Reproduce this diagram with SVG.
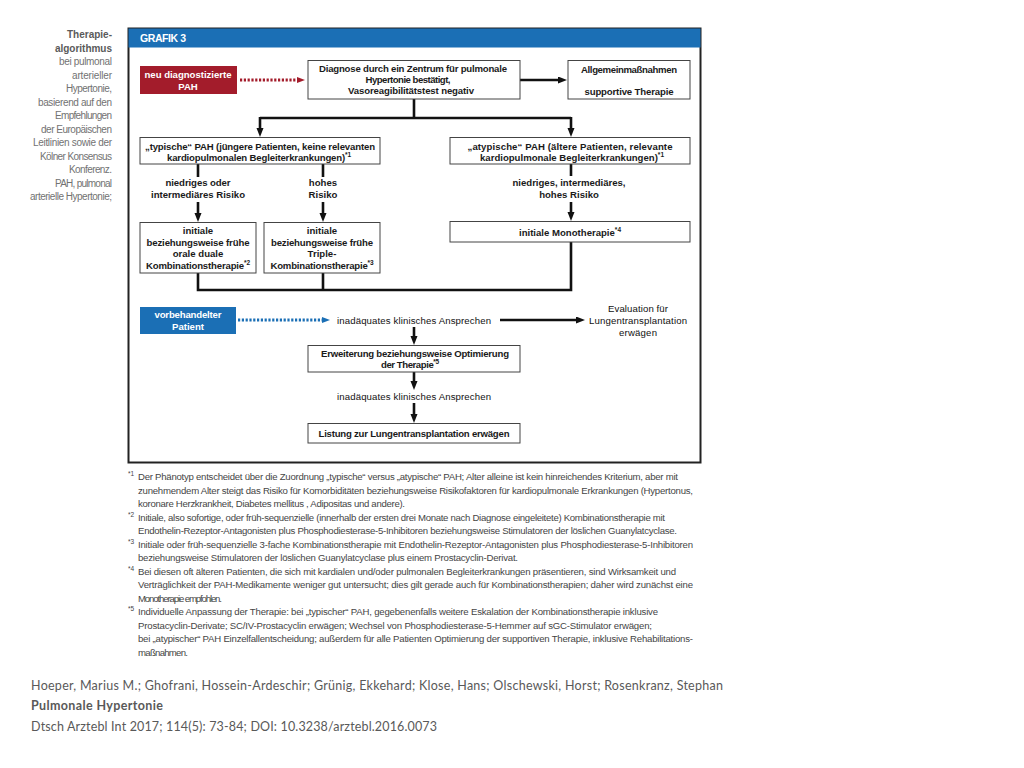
<svg xmlns="http://www.w3.org/2000/svg" width="1024" height="768" viewBox="0 0 1024 768">
<defs>
<style>
.bx{fill:#fff;stroke:#444;stroke-width:1}
.t{font-family:"Liberation Sans",Arial,sans-serif;font-weight:bold;font-size:9.6px;fill:#1a1a1a;text-anchor:middle}
.wt{fill:#fff}
.nw{font-weight:normal;fill:#111}
.ln{fill:none;stroke:#111;stroke-width:2.6}
.fn{font-family:"Liberation Sans",Arial,sans-serif;font-size:9.6px;fill:#454545}
.fs{font-family:"Liberation Sans",Arial,sans-serif;font-size:6.5px;fill:#454545}
.sup{font-size:6.5px}
.sd{font-family:"Liberation Sans",Arial,sans-serif;font-size:10px;fill:#727272;text-anchor:end}
.sdb{font-weight:bold;fill:#5a5a5a}
.ct{font-family:Lato,"Liberation Sans",sans-serif;font-size:12.5px;fill:#595959}
</style>
<marker id="ah" markerUnits="userSpaceOnUse" markerWidth="10" markerHeight="8" refX="2" refY="3.5" orient="auto"><path d="M0,0 L9,3.5 L0,7 z" fill="#111"/></marker>
<marker id="ahr" markerUnits="userSpaceOnUse" markerWidth="9" markerHeight="7" refX="0" refY="3" orient="auto"><path d="M0,0 L8,3 L0,6 z" fill="#a31c2b"/></marker>
<marker id="ahb" markerUnits="userSpaceOnUse" markerWidth="9" markerHeight="7" refX="0" refY="3" orient="auto"><path d="M0,0 L8,3 L0,6 z" fill="#1b6fb5"/></marker>
</defs>
<rect width="1024" height="768" fill="#fff"/>

<g id="sidebar">
<text class="sd sdb" x="112" y="38" textLength="45">Therapie-</text>
<text class="sd sdb" x="112" y="51.5" textLength="57">algorithmus</text>
<text class="sd" x="112" y="65" textLength="53">bei pulmonal</text>
<text class="sd" x="112" y="78.5" textLength="40">arterieller</text>
<text class="sd" x="112" y="92" textLength="46">Hypertonie,</text>
<text class="sd" x="112" y="105.5" textLength="74">basierend auf den</text>
<text class="sd" x="112" y="119" textLength="57">Empfehlungen</text>
<text class="sd" x="112" y="132.5" textLength="71">der Europäischen</text>
<text class="sd" x="112" y="146" textLength="79">Leitlinien sowie der</text>
<text class="sd" x="112" y="159.5" textLength="72">Kölner Konsensus</text>
<text class="sd" x="112" y="173" textLength="43">Konferenz.</text>
<text class="sd" x="112" y="186.5" textLength="57">PAH, pulmonal</text>
<text class="sd" x="112" y="200" textLength="82">arterielle Hypertonie;</text>
</g>

<g id="frame">
<rect x="128.5" y="28.5" width="572" height="434" fill="#fff" stroke="#222" stroke-width="2"/>
<rect x="128.5" y="28.5" width="572" height="19" fill="#1b6fb5"/>
<text x="140" y="42" font-family="Liberation Sans,Arial,sans-serif" font-weight="bold" font-size="10.5" fill="#fff" textLength="46">GRAFIK 3</text>
</g>

<g id="connectors">
<line x1="240" y1="80" x2="297" y2="80" stroke="#a31c2b" stroke-width="3" stroke-dasharray="2.2 1.6" marker-end="url(#ahr)"/>
<line class="ln" x1="520" y1="80" x2="560" y2="80" marker-end="url(#ah)"/>
<path class="ln" d="M414,99 V118 M260,118 H571"/>
<line class="ln" x1="260" y1="117" x2="260" y2="130" marker-end="url(#ah)"/>
<line class="ln" x1="571" y1="117" x2="571" y2="130" marker-end="url(#ah)"/>
<path class="ln" d="M198,164 V177 M323,164 V177 M571,164 V176"/>
<line class="ln" x1="198" y1="202" x2="198" y2="215" marker-end="url(#ah)"/>
<line class="ln" x1="323" y1="202" x2="323" y2="215" marker-end="url(#ah)"/>
<line class="ln" x1="571" y1="202" x2="571" y2="214" marker-end="url(#ah)"/>
<path class="ln" d="M198,273 V290 H571 V242 M323,273 V290"/>
<line x1="238" y1="320" x2="322" y2="320" stroke="#1b6fb5" stroke-width="3" stroke-dasharray="2.2 1.6" marker-end="url(#ahb)"/>
<line class="ln" x1="500" y1="320" x2="578" y2="320" marker-end="url(#ah)"/>
<line class="ln" x1="414" y1="327" x2="414" y2="338" marker-end="url(#ah)"/>
<line class="ln" x1="414" y1="372" x2="414" y2="383" marker-end="url(#ah)"/>
<line class="ln" x1="414" y1="403" x2="414" y2="416" marker-end="url(#ah)"/>
</g>

<g id="n-neu">
<rect x="140" y="66" width="97" height="28" fill="#a31c2b"/>
<text class="t wt" x="188" y="78" textLength="87">neu diagnostizierte</text>
<text class="t wt" x="188" y="89.5">PAH</text>
</g>

<g id="n-diagnose">
<rect class="bx" x="308" y="60.5" width="212" height="38.5"/>
<text class="t" x="413" y="72" textLength="188">Diagnose durch ein Zentrum für pulmonale</text>
<text class="t" x="408" y="83" textLength="85">Hypertonie bestätigt,</text>
<text class="t" x="411" y="94" textLength="126">Vasoreagibilitätstest negativ</text>
</g>

<g id="n-allgemein">
<rect class="bx" x="568" y="60.5" width="122" height="38.5"/>
<text class="t" x="629" y="73" textLength="96">Allgemeinmaßnahmen</text>
<text class="t" x="629" y="95" textLength="89">supportive Therapie</text>
</g>

<g id="n-typisch">
<rect class="bx" x="140" y="137.5" width="240" height="26.5"/>
<text class="t" x="260" y="150" textLength="230">„typische“ PAH (jüngere Patienten, keine relevanten</text>
<text class="t" x="259" y="161" textLength="184">kardiopulmonalen Begleiterkrankungen)<tspan class="sup" dy="-4">*1</tspan></text>
</g>

<g id="l-niedrig">
<text class="t" x="198" y="186" textLength="65">niedriges oder</text>
<text class="t" x="198" y="198" textLength="94">intermediäres Risiko</text>
</g>

<g id="l-hoch">
<text class="t" x="323" y="186">hohes</text>
<text class="t" x="323" y="198">Risiko</text>
</g>

<g id="n-dual">
<rect class="bx" x="140" y="222.5" width="116" height="50.5"/>
<text class="t" x="198" y="234">initiale</text>
<text class="t" x="198" y="246" textLength="103">beziehungsweise frühe</text>
<text class="t" x="198" y="257">orale duale</text>
<text class="t" x="198" y="269" textLength="104">Kombinationstherapie<tspan class="sup" dy="-4">*2</tspan></text>
</g>

<g id="n-triple">
<rect class="bx" x="264" y="222.5" width="116" height="50.5"/>
<text class="t" x="322" y="234">initiale</text>
<text class="t" x="322" y="246" textLength="102">beziehungsweise frühe</text>
<text class="t" x="322" y="257">Triple-</text>
<text class="t" x="322" y="269" textLength="103">Kombinationstherapie<tspan class="sup" dy="-4">*3</tspan></text>
</g>

<g id="n-atypisch">
<rect class="bx" x="450" y="137.5" width="240" height="26.5"/>
<text class="t" x="570" y="150" textLength="205">„atypische“ PAH (ältere Patienten, relevante</text>
<text class="t" x="572" y="161" textLength="184">kardiopulmonale Begleiterkrankungen)<tspan class="sup" dy="-4">*1</tspan></text>
</g>

<g id="l-alle">
<text class="t" x="569" y="186" textLength="113">niedriges, intermediäres,</text>
<text class="t" x="569" y="198">hohes Risiko</text>
</g>

<g id="n-mono">
<rect class="bx" x="450" y="221.5" width="240" height="20.5"/>
<text class="t" x="570" y="236" textLength="102">initiale Monotherapie<tspan class="sup" dy="-4">*4</tspan></text>
</g>

<g id="n-vorbehandelt">
<rect x="140" y="307" width="96" height="27" fill="#1b6fb5"/>
<text class="t wt" x="188" y="318" textLength="67">vorbehandelter</text>
<text class="t wt" x="188" y="330">Patient</text>
</g>

<g id="l-inad1">
<text class="t nw" x="414" y="323.5" textLength="154">inadäquates klinisches Ansprechen</text>
</g>

<g id="n-evaluation">
<text class="t nw" x="638" y="312" textLength="60">Evaluation für</text>
<text class="t nw" x="638" y="324" textLength="98">Lungentransplantation</text>
<text class="t nw" x="638" y="336" textLength="38">erwägen</text>
</g>

<g id="n-erweiterung">
<rect class="bx" x="308" y="345.5" width="212" height="26.5"/>
<text class="t" x="415" y="357" textLength="188">Erweiterung beziehungsweise Optimierung</text>
<text class="t" x="410" y="368" textLength="58">der Therapie<tspan class="sup" dy="-4">*5</tspan></text>
</g>

<g id="l-inad2">
<text class="t nw" x="414" y="400" textLength="154">inadäquates klinisches Ansprechen</text>
</g>

<g id="n-listung">
<rect class="bx" x="308" y="423.5" width="212" height="19.5"/>
<text class="t" x="414" y="437" textLength="191">Listung zur Lungentransplantation erwägen</text>
</g>

<g id="footnotes">
<text class="fs" x="128" y="476">*1</text>
<text class="fn" x="138" y="480" textLength="540">Der Phänotyp entscheidet über die Zuordnung „typische“ versus „atypische“ PAH; Alter alleine ist kein hinreichendes Kriterium, aber mit</text>
<text class="fn" x="138" y="493.5" textLength="555">zunehmendem Alter steigt das Risiko für Komorbiditäten beziehungsweise Risikofaktoren für kardiopulmonale Erkrankungen (Hypertonus,</text>
<text class="fn" x="138" y="507" textLength="267">koronare Herzkrankheit, Diabetes mellitus , Adipositas und andere).</text>
<text class="fs" x="128" y="516.5">*2</text>
<text class="fn" x="138" y="520.5" textLength="527">Initiale, also sofortige, oder früh-sequenzielle (innerhalb der ersten drei Monate nach Diagnose eingeleitete) Kombinationstherapie mit</text>
<text class="fn" x="138" y="534" textLength="539">Endothelin-Rezeptor-Antagonisten plus Phosphodiesterase-5-Inhibitoren beziehungsweise Stimulatoren der löslichen Guanylatcyclase.</text>
<text class="fs" x="128" y="543.5">*3</text>
<text class="fn" x="138" y="547.5" textLength="555">Initiale oder früh-sequenzielle 3-fache Kombinationstherapie mit Endothelin-Rezeptor-Antagonisten plus Phosphodiesterase-5-Inhibitoren</text>
<text class="fn" x="138" y="561" textLength="380">beziehungsweise Stimulatoren der löslichen Guanylatcyclase plus einem Prostacyclin-Derivat.</text>
<text class="fs" x="128" y="570.5">*4</text>
<text class="fn" x="138" y="574.5" textLength="538">Bei diesen oft älteren Patienten, die sich mit kardialen und/oder pulmonalen Begleiterkrankungen präsentieren, sind Wirksamkeit und</text>
<text class="fn" x="138" y="588" textLength="555">Verträglichkeit der PAH-Medikamente weniger gut untersucht; dies gilt gerade auch für Kombinationstherapien; daher wird zunächst eine</text>
<text class="fn" x="138" y="601.5" textLength="84">Monotherapie empfohlen.</text>
<text class="fs" x="128" y="611">*5</text>
<text class="fn" x="138" y="615" textLength="520">Individuelle Anpassung der Therapie: bei „typischer“ PAH, gegebenenfalls weitere Eskalation der Kombinationstherapie inklusive</text>
<text class="fn" x="138" y="628.5" textLength="514">Prostacyclin-Derivate; SC/IV-Prostacyclin erwägen; Wechsel von Phosphodiesterase-5-Hemmer auf sGC-Stimulator erwägen;</text>
<text class="fn" x="138" y="642" textLength="555">bei „atypischer“ PAH Einzelfallentscheidung; außerdem für alle Patienten Optimierung der supportiven Therapie, inklusive Rehabilitations-</text>
<text class="fn" x="138" y="655.5" textLength="50">maßnahmen.</text>
</g>

<g id="citation">
<text class="ct" x="31" y="690" textLength="692">Hoeper, Marius M.; Ghofrani, Hossein-Ardeschir; Grünig, Ekkehard; Klose, Hans; Olschewski, Horst; Rosenkranz, Stephan</text>
<text class="ct" x="31" y="710" font-weight="bold" textLength="132">Pulmonale Hypertonie</text>
<text class="ct" x="31" y="731" textLength="406">Dtsch Arztebl Int 2017; 114(5): 73-84; DOI: 10.3238/arztebl.2016.0073</text>
</g>
</svg>
